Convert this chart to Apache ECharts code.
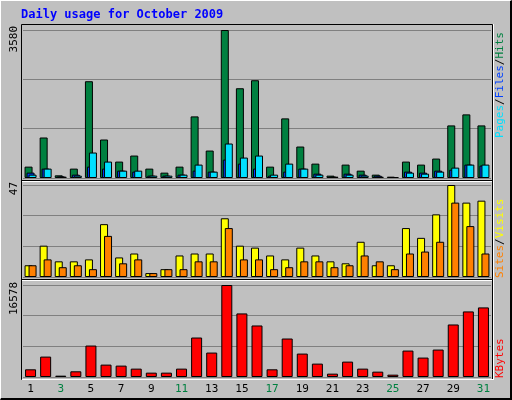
<!DOCTYPE html>
<html><head><meta charset="utf-8">
<script src="https://cdn.jsdelivr.net/npm/echarts@6/dist/echarts.min.js"></script>
<style>
html,body{margin:0;padding:0;background:#c0c0c0;}
#c{width:512px;height:400px;box-sizing:border-box;border-top:1px solid #fff;border-left:1px solid #fff;border-right:2px solid #000;border-bottom:2px solid #000;}
</style></head><body><div id="c"></div>
<script>
const days = ['1','2','3','4','5','6','7','8','9','10','11','12','13','14','15','16','17','18','19','20','21','22','23','24','25','26','27','28','29','30','31'];
const weekends = ['3','4','10','11','17','18','24','25','31'];
const hits = [275,980,65,227,2341,931,397,543,227,130,275,1490,664,3580,2171,2365,275,1442,761,348,57,324,178,81,32,397,324,470,1272,1539,1272];
const files = [130,227,40,81,275,227,178,154,57,57,81,178,154,445,348,227,57,154,227,105,32,105,81,57,24,154,130,178,200,324,300];
const pages = [81,227,32,57,616,397,178,178,57,57,81,324,154,834,494,543,81,348,227,81,32,81,57,32,24,130,105,154,251,324,324];
const visits = [6,16,8,8,9,27,10,12,2,4,11,12,12,30,16,15,11,9,15,11,8,7,18,6,6,25,20,32,47,38,39];
const sites = [6,9,5,6,4,21,7,9,2,4,4,8,8,25,9,9,4,5,8,8,5,6,11,8,4,12,13,18,38,26,12];
const kbytes = [1387,3677,241,1025,5667,2230,2050,1507,784,784,1507,7113,4401,16578,11454,9284,1387,6933,4220,2411,603,2773,1507,965,422,4762,3497,4943,9465,11816,12539];
const maxHits = 3580, maxVisits = 47, maxK = 16578;

const F = 'DejaVu Sans Mono, monospace';
const grids = [
  {left:22, width:468, top:29, height:148},
  {left:22, width:468, top:184, height:92},
  {left:22, width:468, top:284, height:92}
];
function xa(i, show){
  return {type:'category', gridIndex:i, data:days, boundaryGap:true,
    axisLine:{show:false}, axisTick:{show:false},
    axisLabel:{show:show, fontFamily:F, fontSize:11, margin:7,
      color:(v)=> weekends.includes(v)?'#008040':'#000'}};
}
function ya(i, m){
  return {type:'value', gridIndex:i, min:0, max:m, interval:m/3,
    axisLine:{show:false}, axisTick:{show:false}, axisLabel:{show:false},
    splitLine:{lineStyle:{color:'#808080', width:1}}};
}
const bs = (c)=>({color:c, borderColor:'#000', borderWidth:1});
const chart = echarts.init(document.getElementById('c'));
chart.setOption({
  animation:false,
  backgroundColor:'#c0c0c0',
  grid:grids,
  xAxis:[xa(0,false), xa(1,false), xa(2,true)],
  yAxis:[ya(0,maxHits), ya(1,maxVisits), ya(2,maxK)],
  series:[
    {type:'bar', xAxisIndex:0, yAxisIndex:0, data:hits, barWidth:8, barGap:'-75%', itemStyle:bs('#008040')},
    {type:'bar', xAxisIndex:0, yAxisIndex:0, data:files, barWidth:8, barGap:'-75%', itemStyle:bs('#0040ff')},
    {type:'bar', xAxisIndex:0, yAxisIndex:0, data:pages, barWidth:8, barGap:'-75%', itemStyle:bs('#00e0ff')},
    {type:'bar', xAxisIndex:1, yAxisIndex:1, data:visits, barWidth:8, barGap:'-50%', itemStyle:bs('#ffff00')},
    {type:'bar', xAxisIndex:1, yAxisIndex:1, data:sites, barWidth:8, barGap:'-50%', itemStyle:bs('#ff8000')},
    {type:'bar', xAxisIndex:2, yAxisIndex:2, data:kbytes, barWidth:11, itemStyle:bs('#ff0000')}
  ],
  graphic:[
    {type:'text', left:20, top:8, style:{text:'Daily usage for October 2009', fontFamily:F, fontSize:12, fontWeight:'bold', fill:'#0000ff'}},
    {type:'rect', shape:{x:20.5, y:23.5, width:471, height:355}, style:{fill:'none', stroke:'#000', lineWidth:1}},
    {type:'line', shape:{x1:21, y1:378.5, x2:492, y2:378.5}, style:{stroke:'#fff', lineWidth:1}},
    {type:'line', shape:{x1:492.5, y1:23, x2:492.5, y2:379}, style:{stroke:'#fff', lineWidth:1}},
    {type:'line', shape:{x1:21, y1:179.5, x2:491, y2:179.5}, style:{stroke:'#000', lineWidth:1}},
    {type:'line', shape:{x1:21, y1:180.5, x2:491, y2:180.5}, style:{stroke:'#fff', lineWidth:1}},
    {type:'line', shape:{x1:21, y1:278.5, x2:491, y2:278.5}, style:{stroke:'#000', lineWidth:1}},
    {type:'line', shape:{x1:21, y1:279.5, x2:491, y2:279.5}, style:{stroke:'#fff', lineWidth:1}},
    {type:'text', x:19, y:25, rotation:Math.PI/2, style:{text:String(maxHits), fontFamily:F, fontSize:11, fill:'#000', align:'right', verticalAlign:'bottom'}},
    {type:'text', x:19, y:181, rotation:Math.PI/2, style:{text:String(maxVisits), fontFamily:F, fontSize:11, fill:'#000', align:'right', verticalAlign:'bottom'}},
    {type:'text', x:19, y:281, rotation:Math.PI/2, style:{text:String(maxK), fontFamily:F, fontSize:11, fill:'#000', align:'right', verticalAlign:'bottom'}},
    {type:'text', x:494, y:137, rotation:Math.PI/2, style:{text:'{a|Pages}{s|/}{b|Files}{s|/}{c|Hits}', align:'left', verticalAlign:'top',
      rich:{a:{fill:'#00e0ff',fontFamily:F,fontSize:11},b:{fill:'#0040ff',fontFamily:F,fontSize:11},c:{fill:'#008040',fontFamily:F,fontSize:11},s:{fill:'#000',fontFamily:F,fontSize:11}}}},
    {type:'text', x:494, y:277, rotation:Math.PI/2, style:{text:'{a|Sites}{s|/}{b|Visits}', align:'left', verticalAlign:'top',
      rich:{a:{fill:'#ff8000',fontFamily:F,fontSize:11},b:{fill:'#ffff00',fontFamily:F,fontSize:11},s:{fill:'#000',fontFamily:F,fontSize:11}}}},
    {type:'text', x:494, y:377, rotation:Math.PI/2, style:{text:'KBytes', fontFamily:F, fontSize:11, fill:'#ff0000', align:'left', verticalAlign:'top'}}
  ]
});
</script></body></html>
